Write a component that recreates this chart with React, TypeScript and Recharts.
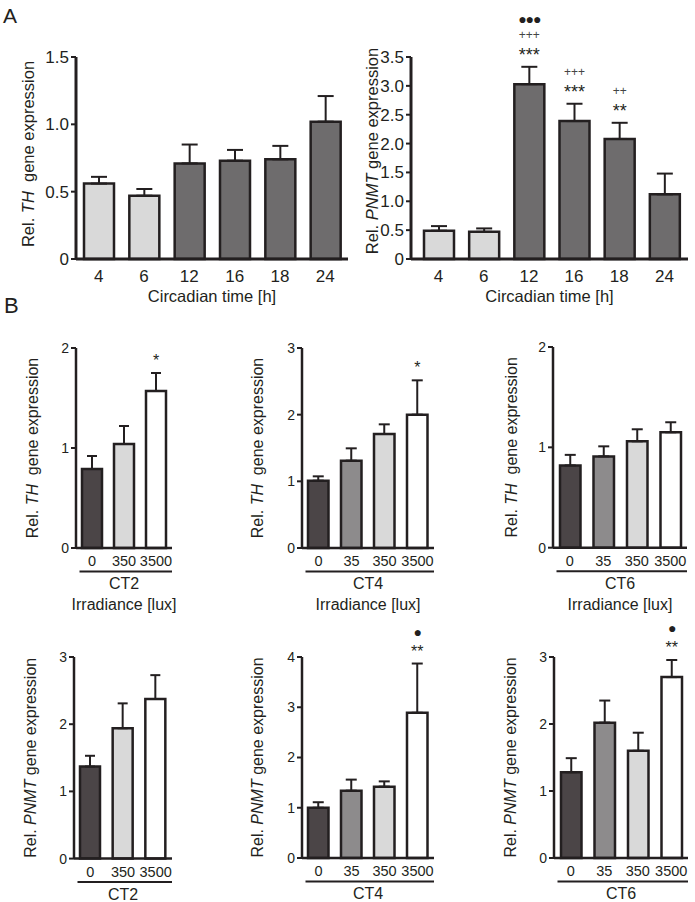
import React from 'react';
import { BarChart, Bar, XAxis, YAxis, ErrorBar, Cell, LabelList } from 'recharts';

const FONT = '"Liberation Sans", Arial, Helvetica, sans-serif';
const INK = '#231f20';
const DARK = '#4b4547';
const MID = '#8d8b8c';
const LIGHT = '#d9d9d9';
const WHITE = '#ffffff';
const A_DARK = '#6e6c6d';

// ---- Panel A: circadian time ----
const circadianHours = ['4', '6', '12', '16', '18', '24'];
const circadianColors = [LIGHT, LIGHT, A_DARK, A_DARK, A_DARK, A_DARK];
const thCircadianMean = [0.56, 0.47, 0.71, 0.73, 0.74, 1.02];
const thCircadianUpper = [0.61, 0.52, 0.85, 0.81, 0.84, 1.21];
const pnmtCircadianMean = [0.49, 0.47, 3.03, 2.39, 2.08, 1.12];
const pnmtCircadianUpper = [0.57, 0.53, 3.33, 2.69, 2.36, 1.48];
const pnmtCircadianSig = [[], [], ['***', '+++', '●●●'], ['***', '+++'], ['**', '++'], []];
const thCircadianTicks = [0, 0.5, 1.0, 1.5];
const pnmtCircadianTicks = [0, 0.5, 1.0, 1.5, 2.0, 2.5, 3.0, 3.5];

// ---- Panel B: irradiance ----
const lux3 = ['0', '350', '3500'];
const lux4 = ['0', '35', '350', '3500'];
const lux3Colors = [DARK, LIGHT, WHITE];
const lux4Colors = [DARK, MID, LIGHT, WHITE];

const thCT2Mean = [0.79, 1.04, 1.57];
const thCT2Upper = [0.92, 1.22, 1.75];
const thCT2Sig = [[], [], ['*']];
const thCT4Mean = [1.01, 1.31, 1.71, 2.0];
const thCT4Upper = [1.075, 1.495, 1.855, 2.515];
const thCT4Sig = [[], [], [], ['*']];
const thCT6Mean = [0.82, 0.91, 1.06, 1.15];
const thCT6Upper = [0.925, 1.01, 1.18, 1.25];

const pnmtCT2Mean = [1.37, 1.94, 2.375];
const pnmtCT2Upper = [1.53, 2.31, 2.73];
const pnmtCT4Mean = [1.0, 1.34, 1.42, 2.89];
const pnmtCT4Upper = [1.11, 1.56, 1.525, 3.87];
const pnmtCT4Sig = [[], [], [], ['**', '●']];
const pnmtCT6Mean = [1.28, 2.02, 1.6, 2.7];
const pnmtCT6Upper = [1.49, 2.35, 1.87, 2.955];
const pnmtCT6Sig = [[], [], [], ['**', '●']];

type PanelProps = {
  left: number; top: number; plotW: number; plotH: number;
  cats: string[]; mean: number[]; upper: number[]; sig?: string[][]; colors: string[];
  yMax: number; yTicks: number[]; yFmt?: (v: number) => string;
  gene: string; titleOffset: number; titleDy?: number;
  big?: boolean; barSize: number; cap: number;
  padL?: number; padR?: number;
  xTitle?: string; ct?: string; irr?: boolean;
};

function Panel(p: PanelProps) {
  const ML = 70, MT = 55, MR = 6, MB = 70;
  const W = ML + p.plotW + MR;
  const H = MT + p.plotH + MB;
  const data = p.cats.map((c, i) => ({
    cat: c,
    i,
    v: p.mean[i],
    err: [0, +(p.upper[i] - p.mean[i]).toFixed(3)],
  }));
  const xTickFs = p.big ? 17 : 14.5;
  const yTickFs = p.big ? 17 : 14;
  const titleFs = p.big ? 16.5 : 16;
  const axisW = p.big ? 3 : 2.5;
  const starFs = p.big ? 18 : 16;

  const yTitle = () => {
    const cx = ML - p.titleOffset + titleFs * 0.35;
    const cy = MT + p.plotH / 2 + (p.titleDy || 0);
    const sep = p.gene === 'TH' ? '\u00a0 gene expression' : ' gene expression';
    return (
      <text transform={`translate(${cx},${cy}) rotate(-90)`} textAnchor="middle" fontSize={titleFs} fontFamily={FONT} fill={INK}>
        {'Rel. '}
        <tspan fontStyle="italic">{p.gene}</tspan>
        {sep}
      </text>
    );
  };

  const xLabel = () => {
    const axisY = MT + p.plotH;
    const cx = ML + p.plotW / 2;
    if (p.xTitle) {
      return (
        <text x={cx} y={axisY + 43} textAnchor="middle" fontSize={titleFs} fontFamily={FONT} fill={INK}>{p.xTitle}</text>
      );
    }
    return (
      <g>
        <line x1={ML + 3.5} x2={ML + p.plotW} y1={axisY + 23.5} y2={axisY + 23.5} stroke={INK} strokeWidth={2} />
        <text x={cx} y={axisY + 41} textAnchor="middle" fontSize={titleFs} fontFamily={FONT} fill={INK}>{p.ct}</text>
        {p.irr ? (
          <text x={cx} y={axisY + 62} textAnchor="middle" fontSize={titleFs} fontFamily={FONT} fill={INK}>Irradiance [lux]</text>
        ) : null}
      </g>
    );
  };

  const sigLabel = (props: any) => {
    const idx = Number(props.value);
    const lines = p.sig ? p.sig[idx] : undefined;
    if (!lines || !lines.length) return null;
    const vb = props.viewBox || props;
    const x = Number(vb.x), w = Number(vb.width);
    const y = Math.min(Number(vb.y), Number(vb.y) + Number(vb.height));
    const h = Math.abs(Number(vb.height));
    const pxPer = h / p.mean[idx];
    const capY = y - (p.upper[idx] - p.mean[idx]) * pxPer;
    const cx = x + w / 2;
    return (
      <g>
        {lines.map((s, k) => {
          const c = capY - 16 - 15.5 * k;
          const ch = s[0];
          const fs = ch === '*' ? starFs : ch === '+' ? 12 : 14;
          const kk = ch === '*' ? 0.57 : 0.33;
          return (
            <text key={k} x={cx} y={c + kk * fs} textAnchor="middle" fontSize={fs} fontFamily={FONT}
              letterSpacing={ch === '●' ? -1 : 0}
              fill={ch === '+' ? '#444' : INK}>{s}</text>
          );
        })}
      </g>
    );
  };

  return (
    <div style={{ position: 'absolute', left: p.left - ML, top: p.top - MT, width: W, height: H }}>
      <BarChart width={W} height={H} data={data} margin={{ top: MT, right: MR, left: 0, bottom: 0 }}>
        <XAxis
          dataKey="cat"
          type="category"
          interval={0}
          tickLine={false}
          tickSize={0}
          tickMargin={p.big ? 11 : 8}
          axisLine={{ stroke: INK, strokeWidth: axisW }}
          tick={{ fill: INK, fontSize: xTickFs, fontFamily: FONT }}
          padding={{ left: p.padL || 0, right: p.padR || 0 }}
          height={MB}
          label={xLabel}
        />
        <YAxis
          type="number"
          domain={[0, p.yMax]}
          ticks={p.yTicks}
          interval={0}
          tickFormatter={p.yFmt}
          tickSize={5}
          tickMargin={2}
          tickLine={{ stroke: INK, strokeWidth: 2 }}
          axisLine={{ stroke: INK, strokeWidth: axisW }}
          tick={{ fill: INK, fontSize: yTickFs, fontFamily: FONT }}
          width={ML}
          label={yTitle}
        />
        <Bar dataKey="v" barSize={p.barSize} stroke={INK} strokeWidth={2.5} isAnimationActive={false}>
          {data.map((d, i) => (
            <Cell key={i} fill={p.colors[i]} />
          ))}
          <ErrorBar dataKey="err" direction="y" width={p.cap} stroke={INK} strokeWidth={2} isAnimationActive={false} />
          <LabelList dataKey="i" content={sigLabel} />
        </Bar>
      </BarChart>
    </div>
  );
}

const fmtA = (v: number) => (v === 0 ? '0' : v.toFixed(1));
const fmtInt = (v: number) => String(v);

export default function App() {
  return (
    <div style={{ position: 'absolute', left: 0, top: 0, width: 695, height: 902, background: '#fff', fontFamily: FONT }}>
      <svg style={{ position: 'absolute', left: 0, top: 0 }} width={695} height={902}>
        <text x={3} y={23} fontSize={21} fontFamily={FONT} fill={INK}>A</text>
        <text x={4} y={313} fontSize={22} fontFamily={FONT} fill={INK}>B</text>
      </svg>

      <Panel left={76} top={57} plotW={272} plotH={202} cats={circadianHours} mean={thCircadianMean}
        upper={thCircadianUpper} colors={circadianColors} yMax={1.5} yTicks={thCircadianTicks} yFmt={fmtA}
        gene="TH" titleOffset={48} titleDy={-4} big barSize={30} cap={8} xTitle="Circadian time [h]" />
      <Panel left={411} top={57} plotW={277} plotH={202} cats={circadianHours} mean={pnmtCircadianMean}
        upper={pnmtCircadianUpper} sig={pnmtCircadianSig} colors={circadianColors} yMax={3.5}
        yTicks={pnmtCircadianTicks} yFmt={fmtA} gene="PNMT" titleOffset={39} titleDy={-7} big barSize={30}
        cap={8} padL={5} padR={1} xTitle="Circadian time [h]" />

      <Panel left={76} top={347.7} plotW={96} plotH={200} cats={lux3} mean={thCT2Mean} upper={thCT2Upper}
        sig={thCT2Sig} colors={lux3Colors} yMax={2} yTicks={[0, 1, 2]} yFmt={fmtInt} gene="TH" titleOffset={44}
        barSize={20} cap={5} ct="CT2" irr />
      <Panel left={301.7} top={347.7} plotW={132} plotH={200} cats={lux4} mean={thCT4Mean} upper={thCT4Upper}
        sig={thCT4Sig} colors={lux4Colors} yMax={3} yTicks={[0, 1, 2, 3]} yFmt={fmtInt} gene="TH" titleOffset={45}
        barSize={20.5} cap={5.5} ct="CT4" irr />
      <Panel left={553} top={347} plotW={134} plotH={200.7} cats={lux4} mean={thCT6Mean} upper={thCT6Upper}
        colors={lux4Colors} yMax={2} yTicks={[0, 1, 2]} yFmt={fmtInt} gene="TH" titleOffset={42}
        barSize={20.5} cap={5.5} ct="CT6" irr />

      <Panel left={74} top={656.7} plotW={98} plotH={201.6} cats={lux3} mean={pnmtCT2Mean} upper={pnmtCT2Upper}
        colors={lux3Colors} yMax={3} yTicks={[0, 1, 2, 3]} yFmt={fmtInt} gene="PNMT" titleOffset={44}
        barSize={20} cap={5} ct="CT2" />
      <Panel left={301.7} top={657.3} plotW={132} plotH={201} cats={lux4} mean={pnmtCT4Mean} upper={pnmtCT4Upper}
        sig={pnmtCT4Sig} colors={lux4Colors} yMax={4} yTicks={[0, 1, 2, 3, 4]} yFmt={fmtInt} gene="PNMT"
        titleOffset={45} barSize={20.5} cap={5.5} ct="CT4" />
      <Panel left={554} top={657.3} plotW={134} plotH={201} cats={lux4} mean={pnmtCT6Mean} upper={pnmtCT6Upper}
        sig={pnmtCT6Sig} colors={lux4Colors} yMax={3} yTicks={[0, 1, 2, 3]} yFmt={fmtInt} gene="PNMT"
        titleOffset={44} barSize={20.5} cap={5.5} ct="CT6" />
    </div>
  );
}
